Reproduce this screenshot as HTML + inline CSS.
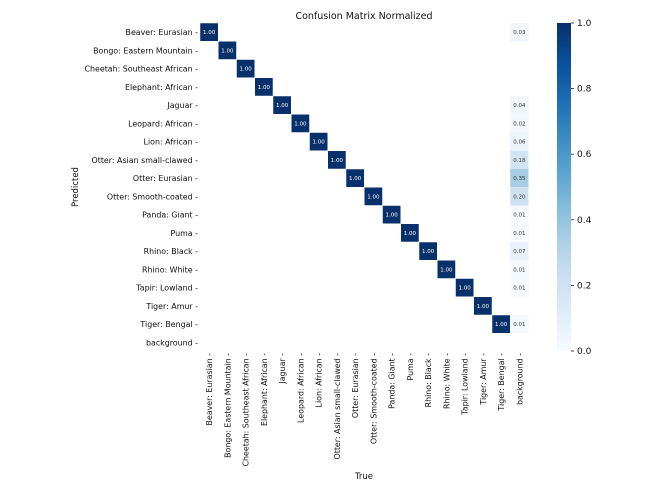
<!DOCTYPE html>
<html><head><meta charset="utf-8"><style>body{margin:0;background:#fff}svg{display:block}text{font-family:"DejaVu Sans","Liberation Sans",sans-serif;fill:#111}</style></head><body>
<svg width="656" height="491" viewBox="0 0 656 491" xmlns="http://www.w3.org/2000/svg">
<defs><linearGradient id="cb" x1="0" y1="1" x2="0" y2="0">
<stop offset="0" stop-color="#f7fbff"/><stop offset="0.125" stop-color="#deebf7"/><stop offset="0.25" stop-color="#c6dbef"/><stop offset="0.375" stop-color="#9ecae1"/><stop offset="0.5" stop-color="#6baed6"/><stop offset="0.625" stop-color="#4292c6"/><stop offset="0.75" stop-color="#2171b5"/><stop offset="0.875" stop-color="#08519c"/><stop offset="1" stop-color="#08306b"/></linearGradient></defs>
<text x="364" y="19" font-size="9.5" text-anchor="middle">Confusion Matrix Normalized</text>
<g id="cells"></g>
<rect x="557" y="23" width="14" height="328" fill="url(#cb)"/>
<g font-size="9" id="cbt"></g>
<g font-size="7.9" id="yl"></g>
<g font-size="7.9" id="xl"></g>
<text transform="translate(78,187) rotate(-90)" font-size="8.5" text-anchor="middle">Predicted</text>
<text x="364" y="479" font-size="8.5" text-anchor="middle">True</text>
</svg>
<script>
const L=["Beaver: Eurasian","Bongo: Eastern Mountain","Cheetah: Southeast African","Elephant: African","Jaguar","Leopard: African","Lion: African","Otter: Asian small-clawed","Otter: Eurasian","Otter: Smooth-coated","Panda: Giant","Puma","Rhino: Black","Rhino: White","Tapir: Lowland","Tiger: Amur","Tiger: Bengal","background"];
const bg=[0.03,0,0,0,0.04,0.02,0.06,0.18,0.35,0.20,0.01,0.01,0.07,0.01,0.01,0,0.01,0];
const stops=[[247,251,255],[222,235,247],[198,219,239],[158,202,225],[107,174,214],[66,146,198],[33,113,181],[8,81,156],[8,48,107]];
function col(v){let p=v*8,i=Math.min(7,Math.floor(p)),f=p-i,a=stops[i],b=stops[i+1];return `rgb(${a.map((x,k)=>Math.round(x+(b[k]-x)*f)).join(',')})`;}
const w=18.25,x0=200,y0=23,ns="http://www.w3.org/2000/svg";
function el(t,at,txt,par){const e=document.createElementNS(ns,t);for(const k in at)e.setAttribute(k,at[k]);if(txt!=null)e.textContent=txt;document.getElementById(par).appendChild(e);}
function cell(r,c,v){el('rect',{x:x0+c*w,y:y0+r*w,width:w,height:w,fill:col(v),stroke:v>0.5?'#fff':'none','stroke-width':0.5},null,'cells');
el('text',{x:x0+c*w+w/2,y:y0+r*w+w/2+2,'font-size':5.5,'text-anchor':'middle',style:'fill:'+(v>0.5?'#fff':'#333')},v.toFixed(2),'cells');}
for(let i=0;i<17;i++)cell(i,i,1);
bg.forEach((v,r)=>{if(v>0)cell(r,17,v)});
L.forEach((s,i)=>{el('text',{x:198,y:y0+i*w+w/2+3,'text-anchor':'end'},s+' -','yl');
el('text',{transform:`translate(${x0+i*w+w/2+3},353) rotate(-90)`,'text-anchor':'end'},s+' -','xl');});
for(let i=0;i<=5;i++){const v=i/5,y=351-v*328;el('line',{x1:571,x2:574,y1:y,y2:y,stroke:'#222','stroke-width':0.8},null,'cbt');el('text',{x:577,y:y+3},v.toFixed(1),'cbt');}
</script>
</body></html>
